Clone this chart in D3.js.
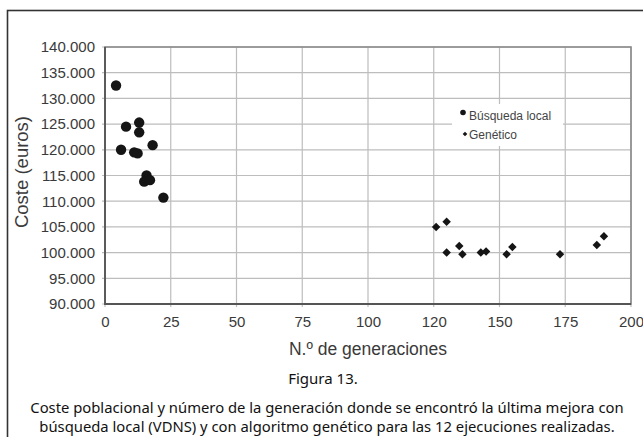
<!DOCTYPE html>
<html><head><meta charset="utf-8">
<script src="https://cdn.jsdelivr.net/npm/d3@7"></script>
<style>body{margin:0;background:#fff}svg{display:block}</style>
</head><body>
<script>
// Data (x = position on generation axis, y = cost in euros)
const localX = [4.2, 8.0, 13.0, 13.0, 6.1, 11.1, 12.4, 18.1, 15.8, 14.9, 17.1, 22.2];
const localY = [132500, 124500, 125300, 123400, 120000, 119500, 119300, 120900, 115000, 113800, 114100, 110700];
const genX = [125.9, 129.9, 129.9, 134.7, 135.9, 142.9, 144.9, 152.7, 154.9, 173.0, 187.0, 189.7];
const genY = [105000, 106000, 100000, 101300, 99700, 100000, 100200, 99700, 101100, 99700, 101500, 103200];
const xTickValues = [0, 25, 50, 75, 100, 125, 150, 175, 200];
const xTickLabels = ["0", "25", "50", "75", "100", "120", "150", "175", "200"];
const yTickValues = [90000, 95000, 100000, 105000, 110000, 115000, 120000, 125000, 130000, 135000, 140000];
const seriesNames = ["Búsqueda local", "Genético"];

(function () {
const W = 643, H = 437;
const svg = d3.select("body").append("svg").attr("width", W).attr("height", H);
const pl = 105, pr = 631, pt = 47, pb = 304;
const x = d3.scaleLinear().domain([0, 200]).range([pl, pr]);
const y = d3.scaleLinear().domain([90000, 140000]).range([pb, pt]);
const fmt = v => d3.format(",")(v).replace(/,/g, ".");

// outer frame
svg.append("rect").attr("x", 7.5).attr("y", 10.5).attr("width", 700).attr("height", 500)
  .attr("fill", "none").attr("stroke", "#333").attr("stroke-width", 1.6);

// grid
const g = svg.append("g");
g.selectAll("line.h").data(yTickValues).join("line")
  .attr("x1", pl - 3).attr("x2", pr).attr("y1", d => y(d)).attr("y2", d => y(d))
  .attr("stroke", "#bdbdbd").attr("stroke-width", 1.2);
g.selectAll("line.v").data(xTickValues).join("line")
  .attr("y1", pt).attr("y2", pb + 3).attr("x1", d => x(d)).attr("x2", d => x(d))
  .attr("stroke", "#bdbdbd").attr("stroke-width", 1.2);

// legend background (covers grid)
svg.append("rect").attr("x", 452).attr("y", 104).attr("width", 111).attr("height", 42).attr("fill", "#fff");

// plot frame
svg.append("rect").attr("x", pl).attr("y", pt).attr("width", pr - pl).attr("height", pb - pt)
  .attr("fill", "none").attr("stroke", "#8a8a8a").attr("stroke-width", 1.6);
svg.append("path").attr("d", `M${pl},${pt}V${pb}H${pr}`)
  .attr("fill", "none").attr("stroke", "#555").attr("stroke-width", 1.8);

// axes via d3
const yAxis = d3.axisLeft(y).tickValues(yTickValues).tickFormat(fmt).tickSize(0).tickPadding(10);
const ya = svg.append("g").attr("transform", `translate(${pl},0)`).call(yAxis);
ya.select(".domain").remove();
ya.selectAll("text").attr("font-family", "Liberation Sans, Arial, sans-serif").attr("font-size", 15).attr("fill", "#3a3a3a");

const xAxis = d3.axisBottom(x).tickValues(xTickValues).tickFormat((d, i) => xTickLabels[i]).tickSize(0).tickPadding(12);
const xa = svg.append("g").attr("transform", `translate(0,${pb})`).call(xAxis);
xa.select(".domain").remove();
xa.selectAll("text").attr("font-family", "Liberation Sans, Arial, sans-serif").attr("font-size", 15).attr("fill", "#3a3a3a");

// axis titles
svg.append("text").attr("x", 368).attr("y", 355).attr("text-anchor", "middle")
  .attr("font-family", "Liberation Sans, Arial, sans-serif").attr("font-size", 17.5).attr("fill", "#3a3a3a")
  .text("N.º de generaciones");
svg.append("text").attr("transform", "translate(28,172) rotate(-90)").attr("text-anchor", "middle")
  .attr("font-family", "Liberation Sans, Arial, sans-serif").attr("font-size", 18.5).attr("fill", "#3a3a3a")
  .text("Coste (euros)");

// points
const localData = localX.map((v, i) => ({ x: v, y: localY[i] }));
const genData = genX.map((v, i) => ({ x: v, y: genY[i] }));
svg.append("g").selectAll("circle").data(localData).join("circle")
  .attr("cx", d => x(d.x)).attr("cy", d => y(d.y)).attr("r", 5.2).attr("fill", "#151515");
const diamond = d3.symbol().type(d3.symbolDiamond2).size(46);
svg.append("g").selectAll("path").data(genData).join("path")
  .attr("d", diamond).attr("transform", d => `translate(${x(d.x)},${y(d.y)})`).attr("fill", "#151515");

// legend
svg.append("circle").attr("cx", 463).attr("cy", 112.5).attr("r", 2.8).attr("fill", "#151515");
svg.append("path").attr("d", d3.symbol().type(d3.symbolDiamond2).size(14)).attr("transform", "translate(465,134)").attr("fill", "#151515");
svg.append("text").attr("x", 469).attr("y", 120).attr("font-family", "Liberation Sans, Arial, sans-serif")
  .attr("font-size", 12).attr("fill", "#444").text(seriesNames[0]);
svg.append("text").attr("x", 469).attr("y", 138.5).attr("font-family", "Liberation Sans, Arial, sans-serif")
  .attr("font-size", 12).attr("fill", "#444").text(seriesNames[1]);

// captions
svg.append("text").attr("x", 323).attr("y", 384).attr("text-anchor", "middle")
  .attr("font-family", "Noto Sans, sans-serif").attr("font-size", 15).attr("fill", "#111")
  .text("Figura 13.");
svg.append("text").attr("x", 327).attr("y", 413).attr("text-anchor", "middle")
  .attr("font-family", "Noto Sans, sans-serif").attr("font-size", 14.8).attr("fill", "#111")
  .text("Coste poblacional y número de la generación donde se encontró la última mejora con");
svg.append("text").attr("x", 327).attr("y", 432).attr("text-anchor", "middle")
  .attr("font-family", "Noto Sans, sans-serif").attr("font-size", 14.8).attr("fill", "#111")
  .text("búsqueda local (VDNS) y con algoritmo genético para las 12 ejecuciones realizadas.");
})();
</script>
</body></html>
